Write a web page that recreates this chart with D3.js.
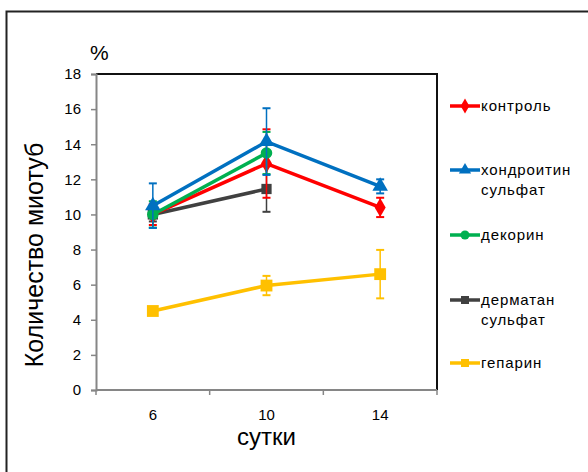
<!DOCTYPE html>
<head>
  <meta charset="utf-8">
  <script src="https://d3js.org/d3.v7.min.js"></script>
  <style>
    body { margin:0; background:#fff; }
    text { font-family: "Liberation Sans", Arial, sans-serif; fill:#000; }
  </style>
</head>
<body>
<script>
  // data
  var days = ["6", "10", "14"]
  var names = ["контроль", "хондроитин сульфат", "декорин", "дерматан сульфат", "гепарин"]
  var colors = ["#ff0000", "#0070c0", "#00b050", "#404040", "#ffc000"]
  var symbols = [d3.symbolDiamond, d3.symbolTriangle, d3.symbolCircle, d3.symbolSquare, d3.symbolSquare]

  var control = [10.0, 12.9, 10.4]
  var controlErr = [0.6, 1.95, 0.55]
  var chondroitin = [10.5, 14.15, 11.6]
  var chondroitinErr = [1.27, 1.9, 0.4]
  var decorin = [10.0, 13.5, null]
  var decorinErr = [0.75, 1.2, null]
  var dermatan = [10.0, 11.45, null]
  var dermatanErr = [0.4, 1.3, null]
  var heparin = [4.5, 5.95, 6.6]
  var heparinErr = [0.2, 0.55, 1.38]

  var yTicks = [0, 2, 4, 6, 8, 10, 12, 14, 16, 18]

  var series = [control, chondroitin, decorin, dermatan, heparin]
  var errs = [controlErr, chondroitinErr, decorinErr, dermatanErr, heparinErr]

  var svg = d3.select("body").append("svg")
    .attr("width", 588)
    .attr("height", 472)

  // outer frame
  svg.append("path")
    .attr("d", "M6.5,480 V11.5 H600")
    .attr("fill", "none")
    .attr("stroke", "#222")
    .attr("stroke-width", 2)

  var pLeft = 96, pRight = 437, pTop = 74, pBottom = 390

  var x = d3.scaleBand().domain(days).range([pLeft, pRight])
  var y = d3.scaleLinear().domain([0, 18]).range([pBottom, pTop])

  // top + right frame of plot area
  svg.append("path")
    .attr("d", "M" + pLeft + "," + pTop + " H" + pRight + " V" + pBottom)
    .attr("fill", "none")
    .attr("stroke", "#111")
    .attr("stroke-width", 2)

  var yAxis = svg.append("g")
    .attr("transform", "translate(" + pLeft + ",0)")
    .call(d3.axisLeft(y).tickValues(yTicks).tickSize(5).tickPadding(10))
  yAxis.select(".domain").attr("stroke", "#868686").attr("stroke-width", 2)
  yAxis.selectAll(".tick line").attr("stroke", "#868686").attr("stroke-width", 1.5)
  yAxis.selectAll("text").attr("font-size", 15).attr("font-family", "Liberation Sans, Arial")

  // category axis: ticks on band edges, labels at centers
  var xAxis = svg.append("g").attr("transform", "translate(0," + pBottom + ")")
  xAxis.append("line").attr("x1", pLeft).attr("x2", pRight)
    .attr("stroke", "#868686").attr("stroke-width", 2)
  var edges = days.map(function(d) { return x(d) }).concat([pRight])
  xAxis.selectAll(".edge").data(edges).enter().append("line")
    .attr("x1", function(d) { return d }).attr("x2", function(d) { return d })
    .attr("y1", 0).attr("y2", 5)
    .attr("stroke", "#868686").attr("stroke-width", 1.5)
  xAxis.selectAll(".lbl").data(days).enter().append("text")
    .attr("x", function(d) { return x(d) + x.bandwidth() / 2 })
    .attr("y", 30)
    .attr("text-anchor", "middle")
    .attr("font-size", 15)
    .text(function(d) { return d })

  var cx = function(i) { return x(days[i]) + x.bandwidth() / 2 }

  var order = [4, 3, 0, 2, 1]
  order.forEach(function(s) {
    var vals = series[s], e = errs[s], col = colors[s]
    var pts = vals.map(function(v, i) { return { i: i, v: v, e: e[i] } }).filter(function(d) { return d.v != null })
    var g = svg.append("g")

    // error bars
    pts.forEach(function(d) {
      g.append("line").attr("x1", cx(d.i)).attr("x2", cx(d.i))
        .attr("y1", y(d.v - d.e)).attr("y2", y(d.v + d.e))
        .attr("stroke", col).attr("stroke-width", 1.5)
      ;[d.v - d.e, d.v + d.e].forEach(function(t) {
        g.append("line").attr("x1", cx(d.i) - 4).attr("x2", cx(d.i) + 4)
          .attr("y1", y(t)).attr("y2", y(t))
          .attr("stroke", col).attr("stroke-width", 2)
      })
    })

    var line = d3.line().x(function(d) { return cx(d.i) }).y(function(d) { return y(d.v) })
    g.append("path").attr("d", line(pts))
      .attr("fill", "none").attr("stroke", col).attr("stroke-width", 3.5)

    g.selectAll(".m").data(pts).enter().append("path")
      .attr("d", d3.symbol().type(symbols[s]).size(s == 4 ? 140 : 105))
      .attr("transform", function(d) { return "translate(" + cx(d.i) + "," + y(d.v) + ")" })
      .attr("fill", col)
  })

  // legend
  var legY = [106, 170, 235, 300, 363]
  names.forEach(function(n, s) {
    var g = svg.append("g").attr("transform", "translate(450," + legY[s] + ")")
    g.append("line").attr("x1", 0).attr("x2", 30).attr("stroke", colors[s]).attr("stroke-width", 3.5)
    g.append("path").attr("d", d3.symbol().type(symbols[s]).size(65)).attr("transform", "translate(15,0)").attr("fill", colors[s])
    var words = n.split(" ")
    words.forEach(function(w, k) {
      g.append("text").attr("x", 31).attr("y", 5 + k * 20)
        .attr("font-size", 15).attr("letter-spacing", 0.9).text(w)
    })
  })

  svg.append("text")
    .attr("transform", "translate(43,255) rotate(-90)")
    .attr("text-anchor", "middle")
    .attr("font-size", 25)
    .text("Количество миотуб")

  svg.append("text")
    .attr("x", (pLeft + pRight) / 2).attr("y", 445)
    .attr("text-anchor", "middle")
    .attr("font-size", 24)
    .text("сутки")

  svg.append("text")
    .attr("x", 90).attr("y", 60)
    .attr("font-size", 21)
    .text("%")
</script>
</body>
